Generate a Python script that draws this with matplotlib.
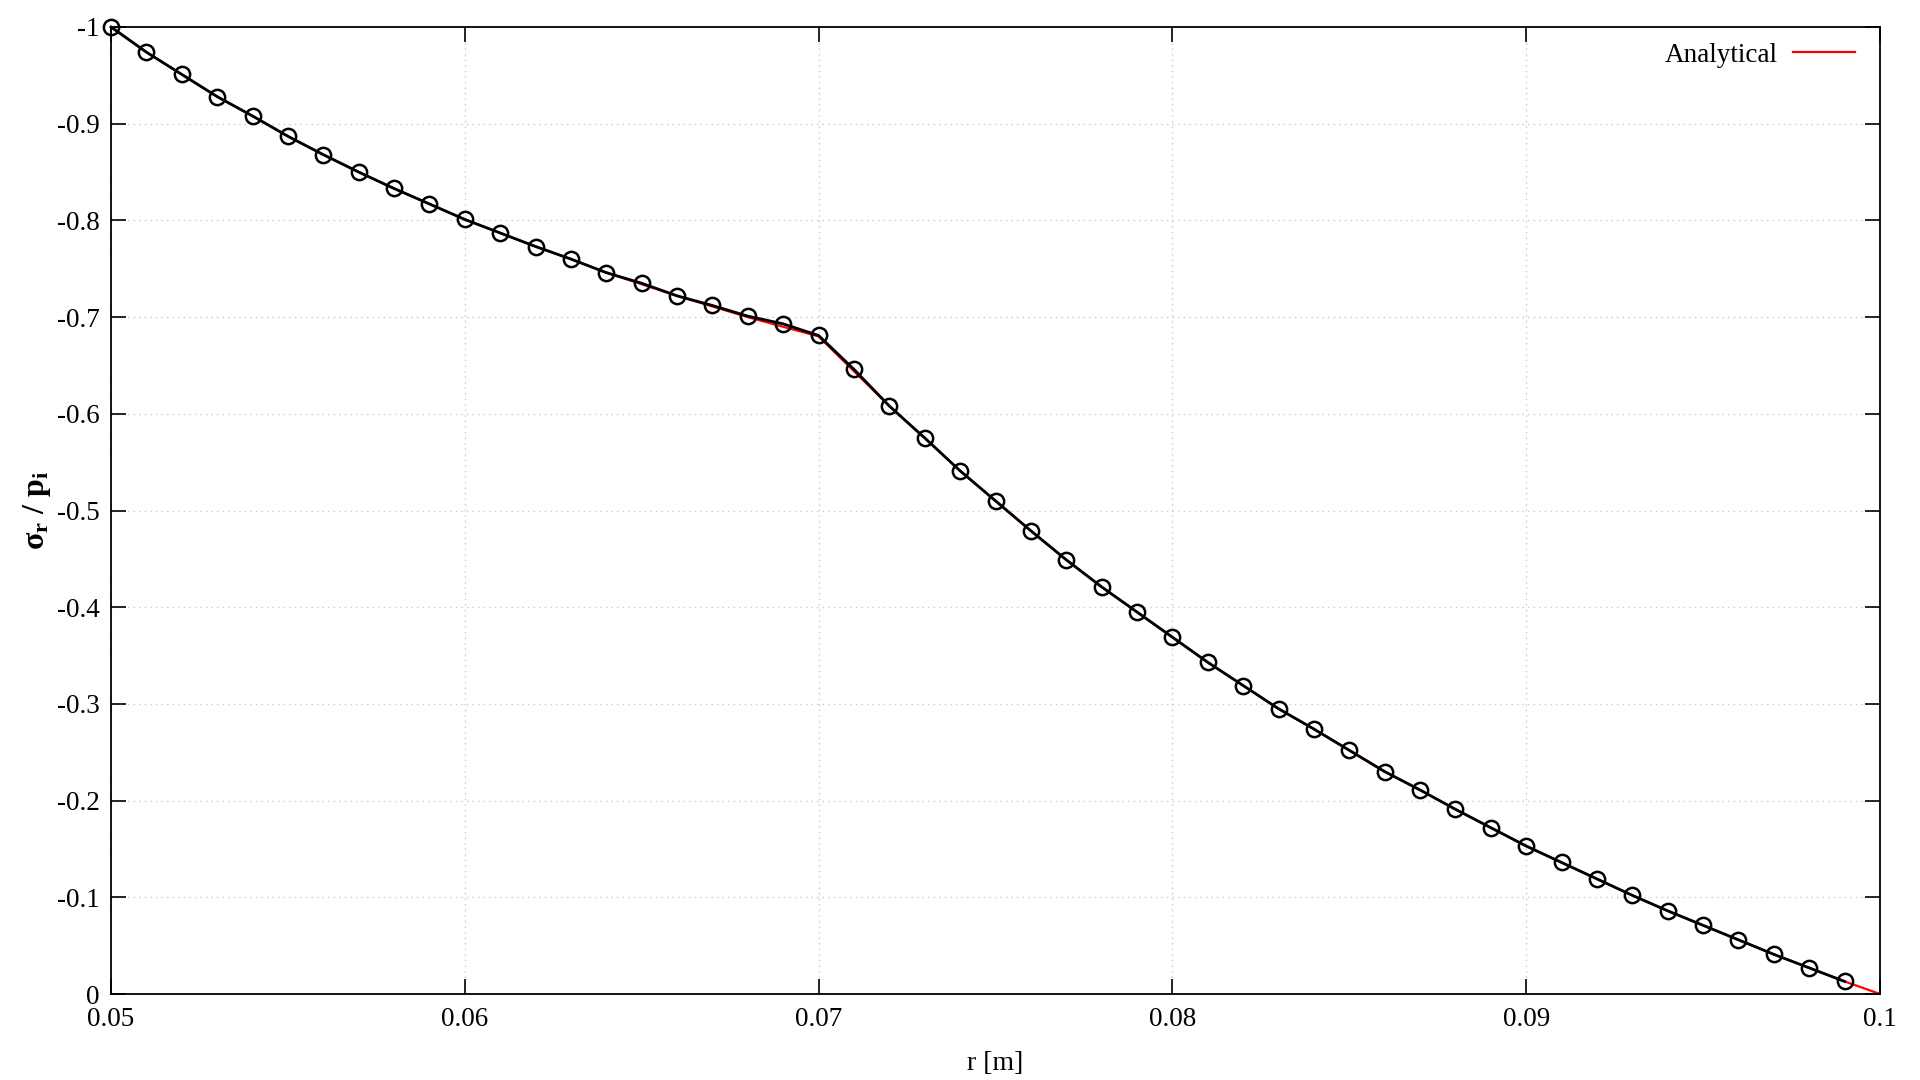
import matplotlib
matplotlib.use("Agg")
import matplotlib.pyplot as plt
from matplotlib.ticker import FixedLocator, FuncFormatter

# ---- data ----
r_num = [0.050, 0.051, 0.052, 0.053, 0.054, 0.055, 0.056, 0.057, 0.058, 0.059,
         0.060, 0.061, 0.062, 0.063, 0.064, 0.065, 0.066, 0.067, 0.068, 0.069,
         0.070, 0.071, 0.072, 0.073, 0.074, 0.075, 0.076, 0.077, 0.078, 0.079,
         0.080, 0.081, 0.082, 0.083, 0.084, 0.085, 0.086, 0.087, 0.088, 0.089,
         0.090, 0.091, 0.092, 0.093, 0.094, 0.095, 0.096, 0.097, 0.098, 0.099]
s_num = [-1.000, -0.974, -0.951, -0.928, -0.908, -0.887, -0.868, -0.850, -0.833, -0.817,
         -0.801, -0.787, -0.773, -0.760, -0.746, -0.735, -0.722, -0.712, -0.701, -0.693,
         -0.681, -0.646, -0.608, -0.575, -0.541, -0.510, -0.479, -0.449, -0.421, -0.395,
         -0.369, -0.343, -0.319, -0.295, -0.274, -0.252, -0.230, -0.211, -0.191, -0.172,
         -0.153, -0.136, -0.119, -0.102, -0.086, -0.071, -0.056, -0.041, -0.027, -0.013]

r_ana = [0.050, 0.051, 0.052, 0.053, 0.054, 0.055, 0.056, 0.057, 0.058, 0.059,
         0.060, 0.061, 0.062, 0.063, 0.064, 0.065, 0.066, 0.067, 0.068, 0.069,
         0.070, 0.071, 0.072, 0.073, 0.074, 0.075, 0.076, 0.077, 0.078, 0.079,
         0.080, 0.081, 0.082, 0.083, 0.084, 0.085, 0.086, 0.087, 0.088, 0.089,
         0.090, 0.091, 0.092, 0.093, 0.094, 0.095, 0.096, 0.097, 0.098, 0.099, 0.100]
s_ana = [-1.000, -0.974, -0.951, -0.928, -0.908, -0.887, -0.868, -0.850, -0.833, -0.817,
         -0.801, -0.787, -0.773, -0.760, -0.746, -0.734, -0.722, -0.711, -0.700, -0.690,
         -0.680, -0.644, -0.608, -0.575, -0.541, -0.510, -0.479, -0.449, -0.421, -0.395,
         -0.369, -0.343, -0.319, -0.295, -0.274, -0.252, -0.230, -0.211, -0.191, -0.172,
         -0.153, -0.136, -0.119, -0.102, -0.086, -0.071, -0.056, -0.041, -0.027, -0.013, 0.000]

x_ticks = [0.05, 0.06, 0.07, 0.08, 0.09, 0.1]
y_ticks = [-1.0, -0.9, -0.8, -0.7, -0.6, -0.5, -0.4, -0.3, -0.2, -0.1, 0.0]

plt.rcParams['font.family'] = ['Liberation Serif', 'DejaVu Serif']
plt.rcParams['mathtext.fontset'] = 'custom'
plt.rcParams['mathtext.rm'] = 'Liberation Serif'
plt.rcParams['mathtext.it'] = 'Liberation Serif'
plt.rcParams['mathtext.bf'] = 'Liberation Serif:bold'

fig = plt.figure(figsize=(19.2, 10.8), dpi=100)
ax = fig.add_axes([111/1920, 1 - 994/1080, (1880-111)/1920, (994-27)/1080])

ax.plot(r_ana, s_ana, color='#ff0000', lw=1.6, label='Analytical', zorder=2)
ax.plot(r_num, s_num, color='black', lw=2.0, marker='o', markersize=11,
        markerfacecolor='none', markeredgecolor='black', markeredgewidth=1.8,
        zorder=3, label='_nolegend_', clip_on=False)

ax.set_xlim(0.05, 0.1)
ax.set_ylim(0.0, -1.0)

ax.xaxis.set_major_locator(FixedLocator(x_ticks))
ax.yaxis.set_major_locator(FixedLocator(y_ticks))
fmt = FuncFormatter(lambda v, p: '%g' % (round(v, 3) + 0.0))
ax.xaxis.set_major_formatter(fmt)
ax.yaxis.set_major_formatter(fmt)

ax.tick_params(axis='both', which='major', direction='in', length=11, width=1.2,
               top=True, right=True, labelsize=19.5, colors='black')
ax.tick_params(axis='x', pad=9)
ax.tick_params(axis='y', pad=8)
for sp in ax.spines.values():
    sp.set_linewidth(1.3)
    sp.set_color('black')

ax.grid(True, which='major', color='#c8c8c8', linestyle=(0, (1, 3)), linewidth=1.0)
ax.set_axisbelow(True)

ax.set_xlabel('r [m]', fontsize=20, labelpad=14)
ax.set_ylabel(r'$\mathbf{\sigma_r\ /\ p_i}$', fontsize=23, labelpad=3)

leg = ax.legend(loc='center right', bbox_to_anchor=(0.9859, 1 - 28/967),
                frameon=False, fontsize=19.5, markerfirst=False,
                handlelength=2.3, handletextpad=0.55, borderpad=0, borderaxespad=0)

fig.savefig('out.png', dpi=100)
